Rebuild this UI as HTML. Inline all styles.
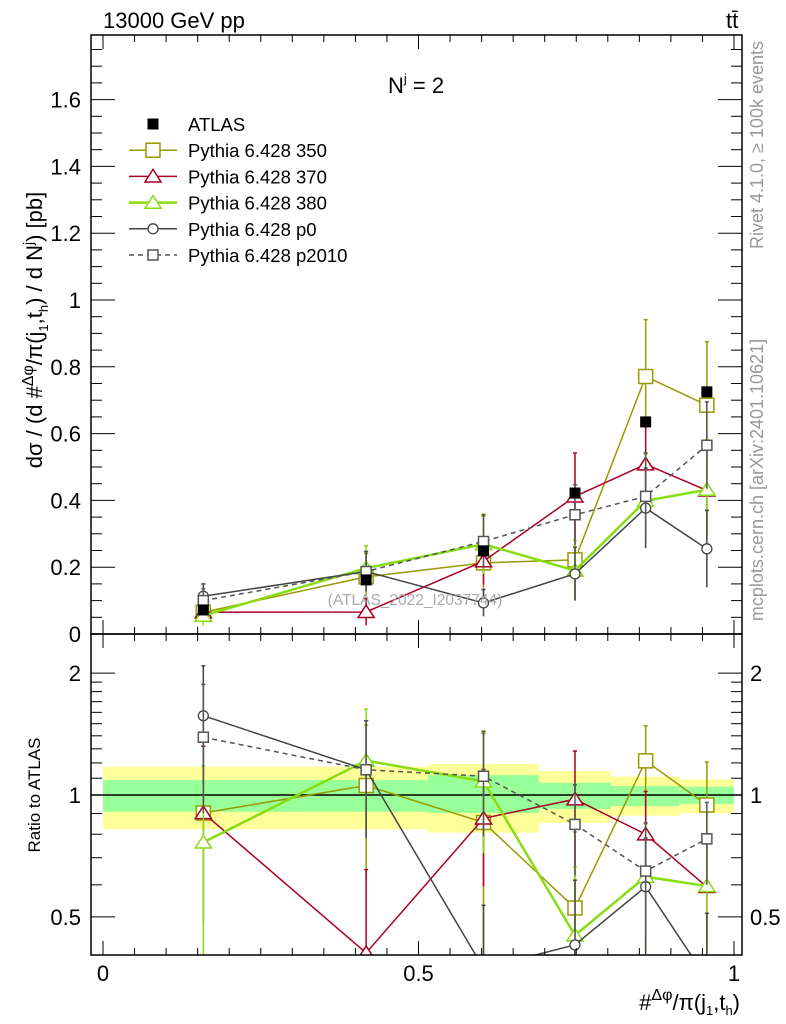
<!DOCTYPE html>
<html><head><meta charset="utf-8"><style>
html,body{margin:0;background:#fff;overflow:hidden;width:786px;height:1024px;}
svg{display:block;}
svg text{font-family:"Liberation Sans",sans-serif;}
</style></head><body>
<svg id="c" width="786" height="1024" viewBox="0 0 786 1024" xmlns="http://www.w3.org/2000/svg">
<defs>
<clipPath id="cu"><rect x="91" y="35" width="651" height="599"/></clipPath>
<clipPath id="cl"><rect x="91" y="634" width="651" height="321"/></clipPath>
</defs>
<g id="bands" clip-path="url(#cl)"></g>
<g id="marksU" clip-path="url(#cu)"></g>
<g id="marksL" clip-path="url(#cl)"></g>
<g id="axes"></g>
<text x="103" y="28" font-size="22">13000 GeV pp</text>
<text x="726" y="28" font-size="22">tt̄</text>
<text x="388" y="93" font-size="22">N<tspan font-size="13" dy="-10">j</tspan><tspan dy="10"> = 2</tspan></text>
<text x="415" y="605" font-size="15.5" fill="#aaa" text-anchor="middle">(ATLAS_2022_I2037744)</text>
<text transform="translate(763,145) rotate(-90)" font-size="18" fill="#999" text-anchor="middle">Rivet 4.1.0, ≥ 100k events</text>
<text transform="translate(763,480) rotate(-90)" font-size="18" fill="#999" text-anchor="middle">mcplots.cern.ch [arXiv:2401.10621]</text>
<text transform="translate(42,330) rotate(-90)" font-size="22" text-anchor="middle">dσ / (d #<tspan font-size="16" dy="-9">Δφ</tspan><tspan dy="9">/π(j</tspan><tspan font-size="13" dy="6">1</tspan><tspan dy="-6">,t</tspan><tspan font-size="13" dy="6">h</tspan><tspan dy="-6">) / d N</tspan><tspan font-size="14" dy="-9">j</tspan><tspan dy="9">) [pb]</tspan></text>
<text transform="translate(40,795) rotate(-90)" font-size="17" text-anchor="middle">Ratio to ATLAS</text>
<text x="740" y="1010" font-size="22" text-anchor="end">#<tspan font-size="16" dy="-10">Δφ</tspan><tspan dy="10">/π(j</tspan><tspan font-size="13" dy="5">1</tspan><tspan dy="-5">,t</tspan><tspan font-size="13" dy="5">h</tspan><tspan dy="-5">)</tspan></text>
<g id="legend"></g>
</svg>
<script>
const binEdges=[0,0.318,0.515,0.691,0.805,0.914,1.0];
const xCenters=[0.159,0.417,0.603,0.748,0.86,0.957];
const atlas=[0.072,0.162,0.249,0.422,0.635,0.725];
const bandYellowHi=[1.175,1.175,1.193,1.146,1.110,1.093];
const bandYellowLo=[0.823,0.823,0.807,0.853,0.889,0.901];
const bandGreenHi=[1.089,1.089,1.12,1.072,1.052,1.048];
const bandGreenLo=[0.909,0.909,0.903,0.924,0.939,0.950];
const v350=[0.065,0.171,0.213,0.222,0.771,0.685];
const e350=[0.03,0.07,0.14,0.12,0.17,0.19];
const v370=[0.065,0.066,0.218,0.412,0.508,0.43];
const e370=[0.03,0.04,0.07,0.13,0.14,0.13];
const v380=[0.055,0.197,0.269,0.19,0.399,0.432];
const e380=[0.03,0.067,0.09,0.09,0.14,0.15];
const vp0=[0.113,0.187,0.093,0.18,0.377,0.255];
const ep0=[0.037,0.06,0.04,0.08,0.12,0.115];
const vp2010=[0.1,0.187,0.277,0.357,0.412,0.565];
const ep2010=[0.035,0.06,0.08,0.09,0.13,0.13];
const yTicksU=[0,0.2,0.4,0.6,0.8,1,1.2,1.4,1.6];
const yTickLabelsU=["0","0.2","0.4","0.6","0.8","1","1.2","1.4","1.6"];
const rTicks=[0.5,1,2];
const rTickLabels=["0.5","1","2"];
const xTicks=[0,0.5,1];
const xTickLabels=["0","0.5","1"];

const NS="http://www.w3.org/2000/svg";
const X=v=>103+v*631;
const YU=v=>634-v*334;
const YR=r=>795-Math.log10(r)*405;
function mk(tag,at,parent){const e=document.createElementNS(NS,tag);for(const k in at)e.setAttribute(k,at[k]);parent.appendChild(e);return e;}
const bands=document.getElementById('bands'),mU=document.getElementById('marksU'),mL=document.getElementById('marksL'),ax=document.getElementById('axes'),lg=document.getElementById('legend');

for(let i=0;i<6;i++){
  const x0=X(binEdges[i]),x1=X(binEdges[i+1]);
  let r=mk('rect',{x:x0,y:YR(bandYellowHi[i]),width:x1-x0,height:YR(bandYellowLo[i])-YR(bandYellowHi[i]),fill:'#ffff99'},bands);
  
  
  r=mk('rect',{x:x0,y:YR(bandGreenHi[i]),width:x1-x0,height:YR(bandGreenLo[i])-YR(bandGreenHi[i]),fill:'#99ff99'},bands);
  
  
}
let ln=mk('line',{x1:91,x2:742,y1:YR(1),y2:YR(1),stroke:'#000','stroke-width':1.5},mL);



function marker(g,type,x,y,color,size){
  if(type==='sq')mk('rect',{x:x-size,y:y-size,width:2*size,height:2*size,fill:'#fff',stroke:color,'stroke-width':1.5},g);
  else if(type==='tri')mk('polygon',{points:`${x},${y-size} ${x-size*1.15},${y+size*0.8} ${x+size*1.15},${y+size*0.8}`,fill:'#fff',stroke:color,'stroke-width':1.5},g);
  else if(type==='circ')mk('circle',{cx:x,cy:y,r:size,fill:'#fff',stroke:color,'stroke-width':1.3},g);
  else if(type==='fsq')mk('rect',{x:x-size,y:y-size,width:2*size,height:2*size,fill:'#000'},g);
}
const series=[
 {name:'350',v:v350,e:e350,c:'#999900',m:'sq',s:7,w:1.5,d:''},
 {name:'370',v:v370,e:e370,c:'#aa0022',m:'tri',s:7,w:1.5,d:''},
 {name:'380',v:v380,e:e380,c:'#88dd11',m:'tri',s:7,w:2.5,d:''},
 {name:'p0',v:vp0,e:ep0,c:'#444444',m:'circ',s:5,w:1.5,d:''},
 {name:'p2010',v:vp2010,e:ep2010,c:'#555555',m:'sq',s:5,w:1.5,d:'5,4'},
];
series.forEach(S=>{
  const gu=mk('g',{},mU);
  
  
  const gl=mk('g',{},mL);
  
  
  const ptsU=S.v.map((v,i)=>X(xCenters[i])+','+YU(v)).join(' ');
  const ptsL=S.v.map((v,i)=>X(xCenters[i])+','+YR(v/atlas[i])).join(' ');
  mk('polyline',{points:ptsU,fill:'none',stroke:S.c,'stroke-width':S.w,'stroke-dasharray':S.d},gu);
  mk('polyline',{points:ptsL,fill:'none',stroke:S.c,'stroke-width':S.w,'stroke-dasharray':S.d},gl);
  S.v.forEach((v,i)=>{
    const x=X(xCenters[i]);
    mk('line',{x1:x,x2:x,y1:YU(v+S.e[i]),y2:YU(Math.max(v-S.e[i],0.0001)),stroke:S.c,'stroke-width':1.5},gu);
    mk('line',{x1:x-2,x2:x+2,y1:YU(v+S.e[i]),y2:YU(v+S.e[i]),stroke:S.c,'stroke-width':1.5},gu);
    const rh=(v+S.e[i])/atlas[i],rl=Math.max(v-S.e[i],0.001)/atlas[i];
    mk('line',{x1:x,x2:x,y1:YR(rh),y2:YR(rl),stroke:S.c,'stroke-width':1.5},gl);
    mk('line',{x1:x-2,x2:x+2,y1:YR(rh),y2:YR(rh),stroke:S.c,'stroke-width':1.5},gl);
    marker(gu,S.m,x,YU(v),S.c,S.s);
    marker(gl,S.m,x,YR(v/atlas[i]),S.c,S.s);
  });
});
const ga=mk('g',{},mU);


atlas.forEach((v,i)=>marker(ga,'fsq',X(xCenters[i]),YU(v),'#000',5.5));

[[35,599],[634,321]].forEach(([y,h],k)=>{
  const f=mk('rect',{x:91,y:y,width:651,height:h,fill:'none',stroke:'#000','stroke-width':1.5},ax);
  
  
});
for(let t=0;t<=1.0001;t+=0.05){
  const x=X(t),maj=Math.abs(t*2-Math.round(t*2))<1e-6,L=maj?14:7;
  [[634,-1],[35,1],[955,-1],[634,1]].forEach(([y,d])=>mk('line',{x1:x,x2:x,y1:y,y2:y+d*L,stroke:'#000','stroke-width':1},ax));
}
xTicks.forEach((t,i)=>{const e=mk('text',{x:X(t),y:981,'font-size':22,'text-anchor':'middle'},ax);e.textContent=xTickLabels[i];

});
for(let v=0;v<=1.79;v+=0.05){
  const y=YU(v),maj=Math.abs(v*5-Math.round(v*5))<1e-6,L=maj?24:11;
  mk('line',{x1:91,x2:91+L,y1:y,y2:y,stroke:'#000'},ax);
  mk('line',{x1:742,x2:742-L,y1:y,y2:y,stroke:'#000'},ax);
}
yTicksU.forEach((t,i)=>{const e=mk('text',{x:81,y:YU(t)+8,'font-size':22,'text-anchor':'end'},ax);e.textContent=yTickLabelsU[i];

});
const minors=[0.5,0.6,0.7,0.8,0.9,1,1.1,1.2,1.3,1.4,1.5,1.6,1.7,1.8,1.9,2];
minors.forEach(r=>{const maj=rTicks.includes(r),L=maj?24:11,y=YR(r);
  mk('line',{x1:91,x2:91+L,y1:y,y2:y,stroke:'#000'},ax);
  mk('line',{x1:742,x2:742-L,y1:y,y2:y,stroke:'#000'},ax);});
rTicks.forEach((t,i)=>{
  let e=mk('text',{x:81,y:YR(t)+8,'font-size':22,'text-anchor':'end'},ax);e.textContent=rTickLabels[i];
  
  
  e=mk('text',{x:750,y:YR(t)+8,'font-size':22},ax);e.textContent=rTickLabels[i];
  
  
});
const legNames=['ATLAS','Pythia 6.428 350','Pythia 6.428 370','Pythia 6.428 380','Pythia 6.428 p0','Pythia 6.428 p2010'];
legNames.forEach((n,i)=>{
  const y=124+i*26.2;
  const g=mk('g',{},lg);
  
  
  if(i===0)marker(g,'fsq',153,y,'#000',5.5);
  else{const S=series[i-1];
    mk('line',{x1:129,x2:177,y1:y,y2:y,stroke:S.c,'stroke-width':S.w,'stroke-dasharray':S.d},g);
    marker(g,S.m,153,y,S.c,S.s);}
  const t=mk('text',{x:188,y:y+7,'font-size':18.5},g);t.textContent=n;
});
</script>
</body></html>
